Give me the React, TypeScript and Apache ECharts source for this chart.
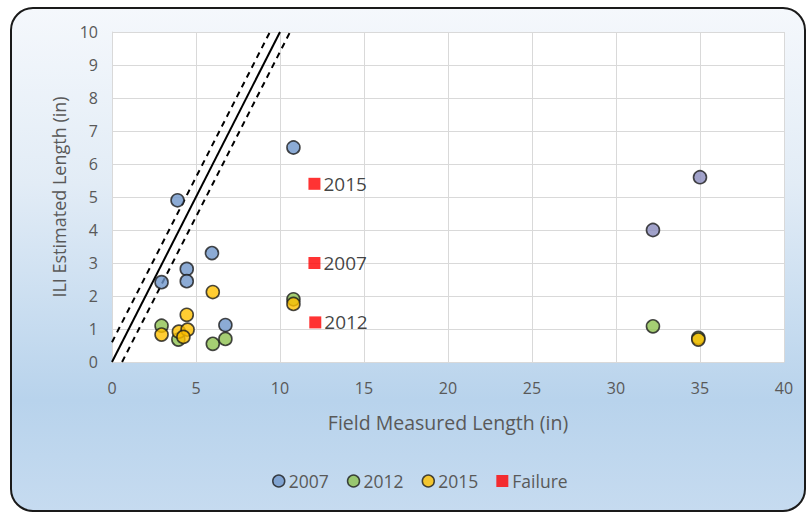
import React, { useEffect, useRef } from "react";
import * as echarts from "echarts";

const xTicks = { min: 0, max: 40, interval: 5 };
const yTicks = { min: 0, max: 10, interval: 1 };

const s2007X = [10.8, 3.9, 35.0, 32.2, 5.95, 4.45, 4.45, 2.95, 6.75];
const s2007Y = [6.5, 4.9, 5.6, 4.0, 3.3, 2.82, 2.45, 2.42, 1.12];

const s2012X = [10.8, 2.95, 3.95, 6.0, 6.75, 32.2, 34.9];
const s2012Y = [1.9, 1.1, 0.68, 0.55, 0.7, 1.08, 0.73];

const s2015X = [10.8, 6.0, 4.45, 2.95, 3.98, 4.5, 4.25, 34.9];
const s2015Y = [1.76, 2.12, 1.43, 0.83, 0.92, 0.98, 0.76, 0.68];

const failureX = [12.05, 12.05, 12.1];
const failureY = [5.4, 3.0, 1.2];
const failureLabels = ["2015", "2007", "2012"];

const identityLine = [[0, 0], [10, 10]];
const upperBound = [[0, 0.6], [9.4, 10]];
const lowerBound = [[0.6, 0], [10.6, 10]];

const FONT = "'Open Sans', sans-serif";
const C2007 = "#6f96ca";
const C2007FAR = "#8a8bbd";
const C2012 = "#8fc250";
const C2015 = "#ffc000";
const CFAIL = "#ff0000";
const EDGE = "#1c1c1c";

function zip(xs: number[], ys: number[]) {
  return xs.map((x, i) => [x, ys[i]]);
}

export default function App() {
  const ref = useRef<HTMLDivElement>(null);
  useEffect(() => {
    document.body.style.margin = "0";
    const chart = echarts.init(ref.current!, null, { renderer: "svg" });
    chart.setOption({
      animation: false,
      backgroundColor: "transparent",
      graphic: [
        {
          type: "rect",
          z: -10,
          silent: true,
          shape: { x: 11, y: 8, width: 794, height: 503, r: 22 },
          style: {
            fill: new echarts.graphic.LinearGradient(0, 0, 0, 1, [
              { offset: 0, color: "#f5f8fc" },
              { offset: 0.35, color: "#e2ecf6" },
              { offset: 0.78, color: "#b8d3ec" },
              { offset: 1, color: "#c6dbf0" },
            ]),
            stroke: "#1a1a1a",
            lineWidth: 2,
          },
        },
      ],
      grid: {
        left: 112,
        right: 23,
        top: 32,
        bottom: 151,
        show: true,
        backgroundColor: "#ffffff",
        borderWidth: 0,
      },
      xAxis: {
        type: "value",
        min: xTicks.min,
        max: xTicks.max,
        interval: xTicks.interval,
        name: "Field Measured Length (in)",
        nameLocation: "middle",
        nameGap: 50,
        nameTextStyle: { color: "#595959", fontSize: 19.5, fontFamily: FONT },
        axisLine: { show: true, lineStyle: { color: "#d9d9d9" } },
        axisTick: { show: false },
        axisLabel: { color: "#595959", fontSize: 16, fontFamily: FONT, margin: 18 },
        splitLine: { show: true, lineStyle: { color: "#d9d9d9" } },
      },
      yAxis: {
        type: "value",
        min: yTicks.min,
        max: yTicks.max,
        interval: yTicks.interval,
        name: "ILI Estimated Length (in)",
        nameLocation: "middle",
        nameGap: 44,
        nameTextStyle: { color: "#595959", fontSize: 18, fontFamily: FONT },
        axisLine: { show: true, lineStyle: { color: "#d9d9d9" } },
        axisTick: { show: false },
        axisLabel: { color: "#595959", fontSize: 16, fontFamily: FONT, margin: 14 },
        splitLine: { show: true, lineStyle: { color: "#d9d9d9" } },
      },
      legend: {
        bottom: 18,
        left: 267,
        itemWidth: 12,
        itemHeight: 12,
        itemGap: 18,
        textStyle: { color: "#595959", fontSize: 17.5, fontFamily: FONT, padding: [0, 0, 0, -1] },
        data: [
          { name: "2007", icon: "circle", itemStyle: { color: C2007, borderColor: EDGE, borderWidth: 1.5 } },
          { name: "2012", icon: "circle", itemStyle: { color: C2012, borderColor: EDGE, borderWidth: 1.5 } },
          { name: "2015", icon: "circle", itemStyle: { color: C2015, borderColor: EDGE, borderWidth: 1.5 } },
          { name: "Failure", icon: "rect", itemStyle: { color: CFAIL, borderWidth: 0 } },
        ],
      },
      series: [
        {
          type: "line",
          data: identityLine,
          symbol: "none",
          lineStyle: { color: "#000", width: 2 },
          z: 1,
        },
        {
          type: "line",
          data: upperBound,
          symbol: "none",
          lineStyle: { color: "#000", width: 2, type: [6, 5] },
          z: 1,
        },
        {
          type: "line",
          data: lowerBound,
          symbol: "none",
          lineStyle: { color: "#000", width: 2, type: [6, 5] },
          z: 1,
        },
        {
          name: "2007",
          type: "scatter",
          data: zip(s2007X, s2007Y),
          symbol: "circle",
          symbolSize: 13,
          itemStyle: {
            color: (p: any) => (p.value[0] > 30 ? C2007FAR : C2007),
            borderColor: EDGE,
            borderWidth: 1.6,
          },
          z: 3,
        },
        {
          name: "2012",
          type: "scatter",
          data: zip(s2012X, s2012Y),
          symbol: "circle",
          symbolSize: 13,
          itemStyle: { color: C2012, borderColor: EDGE, borderWidth: 1.6 },
          z: 3,
        },
        {
          name: "2015",
          type: "scatter",
          data: zip(s2015X, s2015Y),
          symbol: "circle",
          symbolSize: 13,
          itemStyle: { color: C2015, borderColor: EDGE, borderWidth: 1.6 },
          z: 3,
        },
        {
          name: "Failure",
          type: "scatter",
          data: failureX.map((x, i) => ({ value: [x, failureY[i]], name: failureLabels[i] })),
          symbol: "rect",
          symbolSize: 12,
          itemStyle: { color: CFAIL },
          label: {
            show: true,
            position: "right",
            distance: 3,
            formatter: (p: any) => p.name,
            color: "#111",
            fontSize: 19,
            fontFamily: FONT,
          },
          z: 3,
        },
      ],
    });
    return () => chart.dispose();
  }, []);
  return <div ref={ref} style={{ width: 807, height: 513 }} />;
}
